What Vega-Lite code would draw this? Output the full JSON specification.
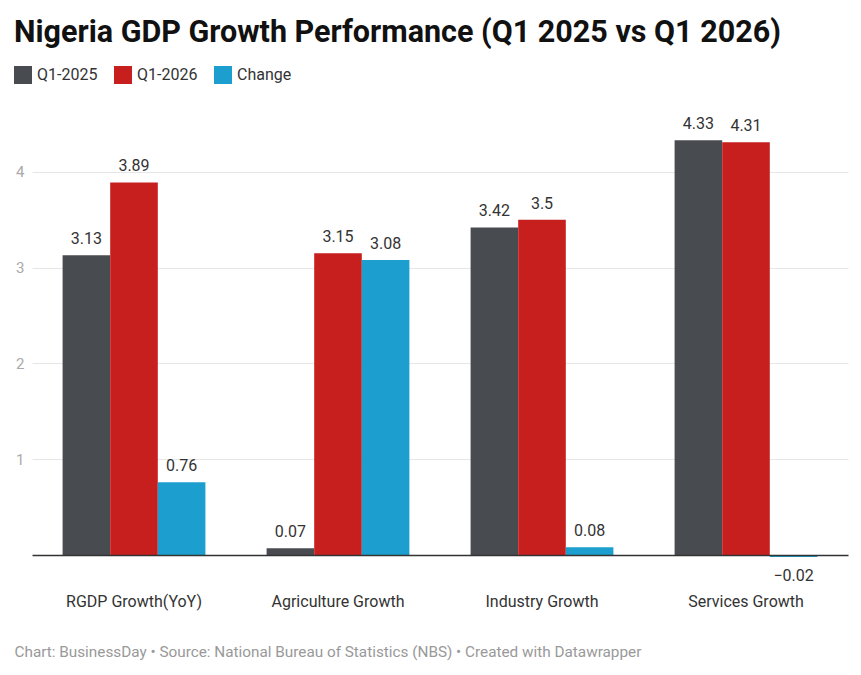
{
  "$schema": "https://vega.github.io/schema/vega-lite/v6.json",
  "autosize": "none",
  "width": 816,
  "height": 431,
  "padding": {"left": 32, "top": 124, "right": 13, "bottom": 120},
  "background": "white",
  "title": {
    "text": "Nigeria GDP Growth Performance (Q1 2025 vs Q1 2026)",
    "anchor": "start",
    "frame": "group",
    "dx": -18,
    "offset": 18,
    "fontSize": 30.5,
    "fontWeight": "bold",
    "color": "#111111",
    "font": "Roboto"
  },
  "config": {
    "font": "Roboto",
    "view": {"stroke": null}
  },
  "data": {
    "values": [
      {"category": "RGDP Growth(YoY)", "series": "Q1-2025", "value": 3.13},
      {"category": "RGDP Growth(YoY)", "series": "Q1-2026", "value": 3.89},
      {"category": "RGDP Growth(YoY)", "series": "Change", "value": 0.76},
      {"category": "Agriculture Growth", "series": "Q1-2025", "value": 0.07},
      {"category": "Agriculture Growth", "series": "Q1-2026", "value": 3.15},
      {"category": "Agriculture Growth", "series": "Change", "value": 3.08},
      {"category": "Industry Growth", "series": "Q1-2025", "value": 3.42},
      {"category": "Industry Growth", "series": "Q1-2026", "value": 3.5},
      {"category": "Industry Growth", "series": "Change", "value": 0.08},
      {"category": "Services Growth", "series": "Q1-2025", "value": 4.33},
      {"category": "Services Growth", "series": "Q1-2026", "value": 4.31},
      {"category": "Services Growth", "series": "Change", "value": -0.02}
    ]
  },
  "encoding": {
    "x": {
      "field": "category",
      "type": "nominal",
      "sort": null,
      "scale": {"paddingInner": 0.3, "paddingOuter": 0.15},
      "axis": {
        "orient": "bottom",
        "zindex": 1,
        "domainColor": "#333333",
        "domainWidth": 1.5,
        "ticks": false,
        "labelAngle": 0,
        "labelPadding": 46,
        "labelFontSize": 16,
        "labelColor": "#333333",
        "labelBaseline": "middle",
        "title": "Chart: BusinessDay • Source: National Bureau of Statistics (NBS) • Created with Datawrapper",
        "titleAnchor": "start",
        "titleAlign": "left",
        "titleX": -18,
        "titleY": 96,
        "titleBaseline": "middle",
        "titleFontSize": 15.3,
        "titleFontWeight": "normal",
        "titleColor": "#999999"
      }
    },
    "xOffset": {
      "field": "series",
      "type": "nominal",
      "sort": ["Q1-2025", "Q1-2026", "Change"],
      "scale": {"paddingInner": 0, "paddingOuter": 0}
    },
    "y": {
      "field": "value",
      "type": "quantitative",
      "scale": {"domain": [0, 4.5], "nice": false, "zero": true},
      "axis": {
        "values": [1, 2, 3, 4],
        "domain": false,
        "ticks": false,
        "grid": true,
        "gridColor": "#e6e6e6",
        "gridWidth": 1,
        "labelFontSize": 15,
        "labelColor": "#aaaaaa",
        "labelPadding": 8,
        "title": null
      }
    }
  },
  "layer": [
    {
      "mark": {"type": "bar"},
      "encoding": {
        "color": {
          "field": "series",
          "type": "nominal",
          "sort": ["Q1-2025", "Q1-2026", "Change"],
          "scale": {
            "domain": ["Q1-2025", "Q1-2026", "Change"],
            "range": ["#484b50", "#c71e1e", "#1c9fce"]
          },
          "legend": {
            "title": null,
            "orient": "none",
            "direction": "horizontal",
            "legendX": -18,
            "legendY": -58,
            "symbolType": "square",
            "symbolSize": 324,
            "symbolStrokeWidth": 0,
            "symbolOpacity": 1,
            "labelFontSize": 16,
            "labelColor": "#333333",
            "labelOffset": 5,
            "columnPadding": 16
          }
        }
      }
    },
    {
      "transform": [{"filter": "datum.value >= 0"}],
      "mark": {"type": "text", "baseline": "bottom", "dy": -8, "fontSize": 16, "color": "#333333"},
      "encoding": {"text": {"field": "value", "type": "quantitative"}}
    },
    {
      "transform": [{"filter": "datum.value < 0"}],
      "mark": {"type": "text", "baseline": "top", "dy": 11, "fontSize": 16, "color": "#333333"},
      "encoding": {"text": {"field": "value", "type": "quantitative"}}
    }
  ]
}
